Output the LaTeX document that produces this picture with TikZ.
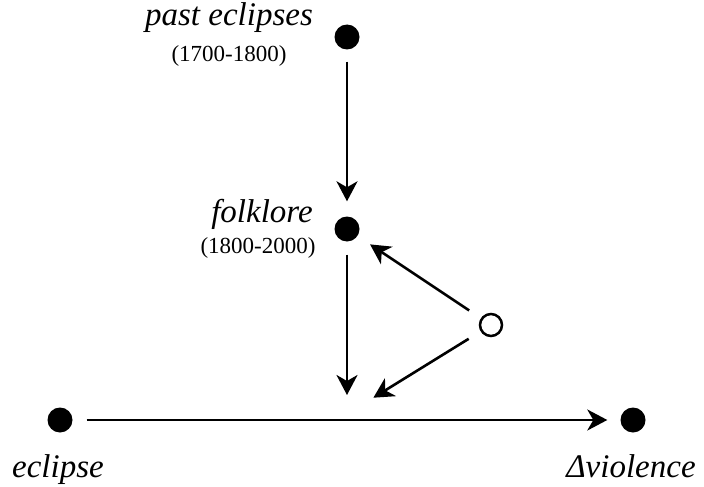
\documentclass[tikz,border=0pt]{standalone}
\usepackage{fontspec}
\setmainfont{Liberation Serif}
\usetikzlibrary{arrows.meta,calc,positioning}

\begin{document}
\begin{tikzpicture}[>={Stealth[length=20pt,width=21pt,inset=6pt]}, x=1pt, y=-1pt,
  dot/.style={circle, fill=black, inner sep=0pt, minimum size=25pt},
  hollow/.style={circle, draw=black, line width=2.5pt, fill=white, inner sep=0pt, minimum size=22pt},
  varlabel/.style={font=\fontsize{33}{39}\selectfont\itshape, inner sep=0pt, anchor=base},
  years/.style={font=\fontsize{23}{27}\selectfont, inner sep=0pt, anchor=base},
  link/.style={line width=2.6pt, ->}]
  \useasboundingbox (0,0) rectangle (704,487);

  % Variables
  \node[dot] (past) at (347,37) {};
  \node[dot] (folk) at (347,229) {};
  \node[hollow] (conf) at (491,325) {};
  \node[dot] (ecl) at (60,420) {};
  \node[dot] (viol) at (633,420) {};
  \coordinate (join) at (347,414);

  % Labels
  \node[varlabel] (pastlbl) at (229,26) {past eclipses};
  \node[years] (pastyrs) at (229,62) {(1700-1800)};
  \node[varlabel] (folklbl) at (262,222) {folklore};
  \node[years] (folkyrs) at (258,253) {(1800-2000)};
  \node[varlabel] (ecllbl) at (58,477) {eclipse};
  \node[varlabel] (viollbl) at (631,477) {Δviolence};

  % Arrows
  \draw[link, shorten <=12pt, shorten >=15pt] (past) -- (folk);
  \draw[link, shorten <=13pt, shorten >=19pt] (folk) -- (join);
  \draw[link, shorten <=14pt, shorten >=15pt] (conf) -- (folk);
  \draw[link, shorten <=14pt, shorten >=31pt] (conf) -- (join);
  \draw[link, shorten <=14pt, shorten >=13pt] (ecl) -- (viol);
\end{tikzpicture}
\end{document}
